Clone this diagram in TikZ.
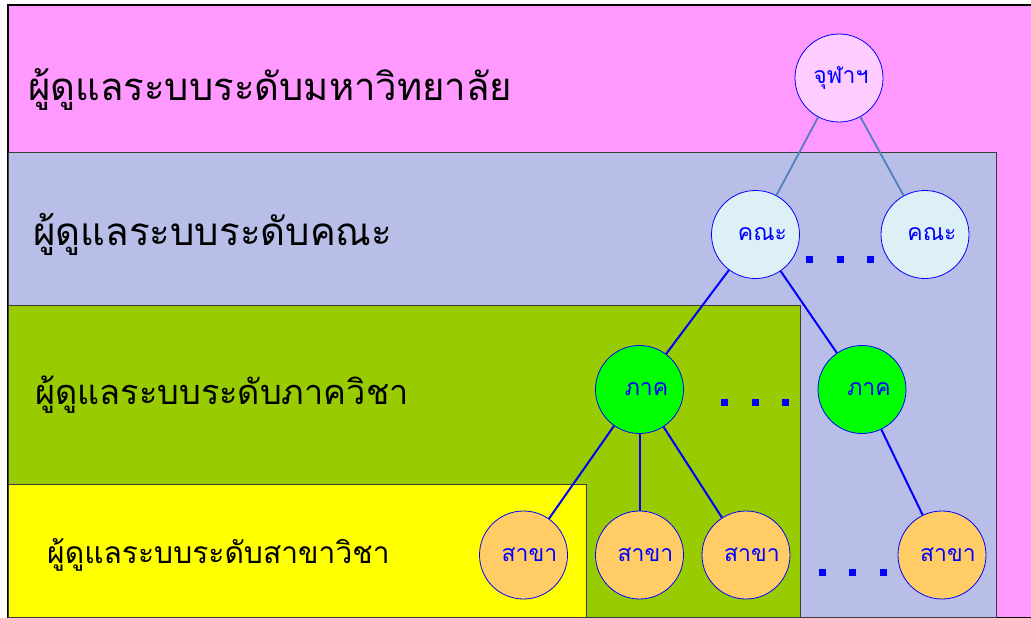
\documentclass[tikz,border=0pt]{standalone}
\usepackage{fontspec}
\newfontfamily\thaifont[Script=Thai]{Loma}
\definecolor{pinkbg}{RGB}{255,153,255}
\definecolor{lavbg}{RGB}{184,190,232}
\definecolor{olivebg}{RGB}{153,204,0}
\definecolor{yellowbg}{RGB}{255,255,0}
\definecolor{unifill}{RGB}{255,204,255}
\definecolor{facfill}{RGB}{221,240,245}
\definecolor{depfill}{RGB}{0,255,0}
\definecolor{brfill}{RGB}{255,204,102}
\definecolor{topedge}{RGB}{79,129,189}
\definecolor{boxline}{RGB}{60,60,60}
\begin{document}
\begin{tikzpicture}[x=1pt,y=-1pt,
  levelbox/.style={draw=boxline,line width=1pt},
  leveltext/.style={anchor=west,inner sep=0pt,font=\thaifont},
  unit/.style={circle,draw=blue,line width=0.8pt,minimum size=88pt,inner sep=0pt,text=blue,font=\thaifont\fontsize{23}{26}\selectfont},
  link/.style={draw=blue,line width=2pt},
  toplink/.style={draw=topedge,line width=1.8pt},
  dotsq/.style={fill=blue,minimum size=7pt,inner sep=0pt,rectangle}
]
\useasboundingbox (0,0) rectangle (1031,618);
\clip (0,0) rectangle (1031,618);
% level boxes
\draw[draw=black,line width=1.2pt,fill=pinkbg] (8,5) rectangle (1040,617.5);
\draw[levelbox,fill=lavbg] (8,152) rectangle (996,617.5);
\draw[levelbox,fill=olivebg] (8,305) rectangle (800,617.5);
\draw[levelbox,fill=yellowbg] (8,484) rectangle (586,617.5);
% level labels
\node[leveltext,font=\thaifont\fontsize{38.3}{44}\selectfont] (tuni) at (28,90) {ผู้ดูแลระบบระดับมหาวิทยาลัย};
\node[leveltext,font=\thaifont\fontsize{38.5}{44}\selectfont] (tfac) at (33,234) {ผู้ดูแลระบบระดับคณะ};
\node[leveltext,font=\thaifont\fontsize{34.3}{40}\selectfont] (tdep) at (35,395) {ผู้ดูแลระบบระดับภาควิชา};
\node[leveltext,font=\thaifont\fontsize{30}{36}\selectfont] (tbr) at (47,555) {ผู้ดูแลระบบระดับสาขาวิชา};
% nodes
\node[unit,fill=unifill] (uni) at (839,78) {\hspace{4pt}จุฬาฯ};
\node[unit,fill=facfill] (fac1) at (755.5,234.5) {\hspace{14pt}คณะ};
\node[unit,fill=facfill] (fac2) at (925,234.5) {\hspace{14pt}คณะ};
\node[unit,fill=depfill] (dep1) at (639.5,389.5) {\hspace{14pt}ภาค};
\node[unit,fill=depfill] (dep2) at (862,389.5) {\hspace{14pt}ภาค};
\node[unit,fill=brfill] (br1) at (523.5,555) {\hspace{12pt}สาขา};
\node[unit,fill=brfill] (br2) at (639.5,555) {\hspace{12pt}สาขา};
\node[unit,fill=brfill] (br3) at (746,555) {\hspace{12pt}สาขา};
\node[unit,fill=brfill] (br4) at (942,555) {\hspace{12pt}สาขา};
% links
\draw[toplink] (uni) -- (fac1);
\draw[toplink] (uni) -- (fac2);
\draw[link] (fac1) -- (dep1);
\draw[link] (fac1) -- (dep2);
\draw[link] (dep1) -- (br1);
\draw[link] (dep1) -- (br2);
\draw[link] (dep1) -- (br3);
\draw[link] (dep2) -- (br4);
% dots
\node[dotsq] (fd1) at (809,259) {};
\node[dotsq] (fd2) at (840,259) {};
\node[dotsq] (fd3) at (870,259) {};
\node[dotsq] (dd1) at (724,402) {};
\node[dotsq] (dd2) at (755,402) {};
\node[dotsq] (dd3) at (785,402) {};
\node[dotsq] (bd1) at (822,572) {};
\node[dotsq] (bd2) at (852,572) {};
\node[dotsq] (bd3) at (883,572) {};
\end{tikzpicture}
\end{document}
